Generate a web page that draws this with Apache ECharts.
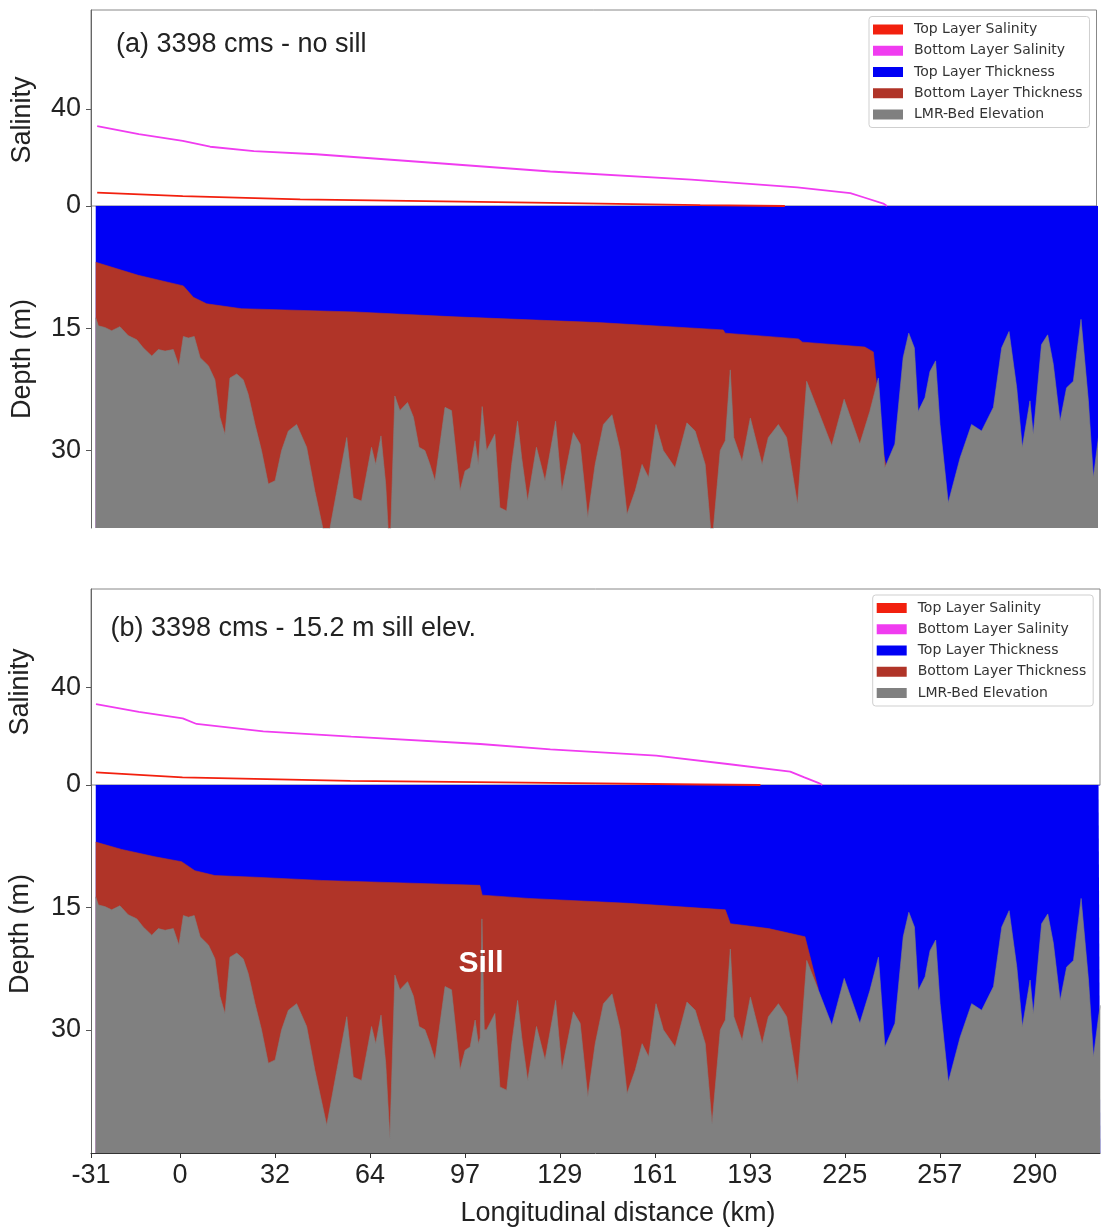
<!DOCTYPE html>
<html>
<head>
<meta charset="utf-8">
<title>Two-layer salinity and thickness profile</title>
<script src="https://cdn.jsdelivr.net/npm/echarts@6/dist/echarts.min.js"></script>
<style>
  html, body { margin: 0; padding: 0; background: #fff; }
  #chart { width: 1103px; height: 1230px; }
</style>
</head>
<body>
<div id="chart"></div>
<script>
// x ticks (km) and the labels printed under them
const xTickValues = [-30.2, 0, 32.2, 64.4, 96.6, 128.7, 160.9, 193.1, 225.3, 257.5, 289.7]
const xTickLabels = ['-31', '0', '32', '64', '97', '129', '161', '193', '225', '257', '290']
const salinityTicks = [0, 40]
const depthTicks = [15, 30]

// LMR bed depth (m) along the river, [km, depth]
const bedDepth = [
  [-28.6, 13.7], [-27.7, 14.7], [-25.5, 14.9], [-23.2, 15.3], [-20.4, 14.8], [-17.6, 15.9],
  [-14.7, 16.4], [-12.5, 17.4], [-9.6, 18.4], [-7.4, 17.6], [-5.1, 17.8], [-2.3, 17.6],
  [-0.4, 19.6], [1.1, 16.0], [2.8, 16.2], [4.8, 16.0], [6.8, 18.6], [9.6, 19.6],
  [11.8, 21.3], [13.5, 25.9], [15.2, 28.0], [16.9, 21.1], [19.2, 20.6], [21.4, 21.3],
  [23.1, 23.1], [25.4, 26.8], [27.6, 30.0], [29.9, 34.1], [32.2, 33.7], [34.4, 30.0],
  [36.7, 27.6], [39.5, 26.8], [42.9, 29.6], [45.7, 35.0], [49.7, 41.7], [53.1, 35.0],
  [56.5, 28.4], [58.7, 35.8], [61.5, 36.2], [64.9, 29.6], [66.3, 31.7], [68.1, 28.2],
  [69.7, 34.1], [71.1, 43.3], [72.8, 23.3], [74.5, 25.1], [77.1, 24.1], [79.1, 25.9],
  [81.0, 29.6], [83.0, 30.0], [84.5, 31.5], [86.4, 33.7], [89.8, 24.7], [92.0, 25.1],
  [94.9, 34.9], [96.6, 32.5], [98.3, 32.1], [100.0, 28.8], [101.1, 31.7], [102.4, 24.6],
  [103.9, 30.0], [106.7, 28.0], [108.4, 37.0], [110.7, 37.4], [112.4, 31.7], [114.4, 26.4],
  [115.8, 30.9], [117.8, 36.2], [120.8, 29.6], [123.7, 33.7], [127.3, 26.4], [129.4, 34.9],
  [133.3, 27.8], [135.6, 29.2], [138.2, 38.2], [140.7, 31.7], [143.5, 26.8], [146.4, 25.6],
  [149.2, 30.0], [151.5, 37.8], [154.3, 34.9], [156.6, 31.7], [158.8, 33.3], [161.3, 26.8],
  [163.8, 30.0], [167.8, 32.1], [171.8, 26.6], [174.6, 27.6], [178.0, 31.7], [180.3, 41.5],
  [183.1, 30.0], [184.8, 28.8], [186.5, 20.1], [187.7, 28.4], [190.5, 31.3], [193.3, 26.0],
  [197.3, 31.7], [199.4, 28.4], [202.8, 26.8], [205.6, 28.4], [209.3, 36.6], [212.4, 21.5],
  [216.4, 25.2], [220.9, 29.4], [225.1, 23.7], [230.4, 29.2], [233.8, 25.2], [236.7, 21.1],
  [238.9, 32.1], [242.3, 29.2], [245.1, 18.6], [247.0, 15.6], [248.9, 17.4], [250.2, 25.2],
  [252.5, 23.5], [254.2, 20.3], [256.1, 19.0], [257.6, 26.8], [260.4, 36.4], [264.4, 30.9],
  [268.3, 26.8], [271.7, 27.6], [275.7, 24.7], [278.5, 17.4], [281.0, 15.4], [283.6, 22.3],
  [285.5, 29.6], [288.1, 23.9], [289.2, 28.0], [292.0, 17.0], [294.1, 15.8], [296.0, 19.4],
  [298.3, 26.4], [300.5, 22.3], [302.8, 21.5], [305.4, 13.9], [307.9, 23.9], [309.6, 33.3],
  [311.3, 28.4], [311.9, 27.0]
]

// sill crest added to the bed in case (b)
const sillB = [[101.7, 31.0], [102.3, 16.4], [102.5, 16.4], [103.1, 30.0]]

// interface depth (top of bottom layer), [km, depth]
const interfaceA = [
  [-28.6, 6.9], [-14.2, 8.5], [1.1, 9.8], [4.5, 11.2], [9.0, 12.0], [20.8, 12.6],
  [59.3, 13.0], [93.2, 13.6], [141.8, 14.3], [184.1, 15.2], [184.8, 15.6], [209.6, 16.3],
  [211.0, 16.7], [232.1, 17.3], [235.0, 17.9], [236.0, 21.5], [238.4, 30.3], [239.4, 32.0]
]
const interfaceB = [
  [-28.6, 7.0], [-19.8, 7.9], [-8.5, 8.8], [0.5, 9.4], [5.0, 10.5], [11.8, 11.1],
  [25.4, 11.3], [48.0, 11.7], [84.0, 12.1], [101.6, 12.3], [102.4, 13.5], [118.0, 13.9],
  [151.9, 14.5], [184.8, 15.3], [186.5, 17.0], [199.5, 17.6], [211.8, 18.6], [216.3, 25.0]
]

// salinity, [km, psu]
const topSalA = [[-28.1, 5.5], [0.9, 4.1], [40.7, 2.7], [125.5, 1.3], [176.3, 0.4], [205.0, 0.0]]
const botSalA = [
  [-28.1, 32.9], [-14.0, 29.6], [0.9, 26.8], [10.2, 24.4], [25.0, 22.6], [46.1, 21.3],
  [87.7, 17.6], [125.5, 14.2], [173.3, 10.9], [209.2, 7.7], [227.2, 5.3], [231.9, 3.5],
  [238.4, 1.0], [239.6, 0.0]
]
const topSalB = [[-28.5, 5.2], [0.8, 3.1], [57.7, 1.7], [125.5, 0.9], [176.3, 0.2], [196.7, 0.0]]
const botSalB = [
  [-28.5, 33.1], [-14.0, 30.0], [0.9, 27.3], [5.6, 25.0], [28.2, 22.0], [58.0, 19.8],
  [101.7, 16.8], [101.9, 17.6], [102.1, 16.0], [125.5, 14.6], [161.4, 12.0], [186.3, 8.5],
  [186.5, 9.2], [186.7, 7.9], [206.8, 5.5], [211.6, 3.1], [216.3, 0.9], [217.7, 0.0]
]

const names = ['Top Layer Salinity', 'Bottom Layer Salinity', 'Top Layer Thickness', 'Bottom Layer Thickness', 'LMR-Bed Elevation']
const colors = { topSal: '#f2200e', botSal: '#f03cf0', topThk: '#0000f5', botThk: '#b03428', bed: '#808080' }

// bed for case (b): original stations with the sill crest in place
const bedB = bedDepth.filter(p => p[0] < 101.5 || p[0] > 103.5).concat(sillB).sort((a, b) => a[0] - b[0])
// water surface at every bed station
const surface = bedDepth.map(p => [p[0], 0])

const labelFont = 'Liberation Sans, Arial, sans-serif'
const tickLabel = { fontSize: 27, color: '#222', fontFamily: labelFont }

const xAxisFor = (gridIndex, max, show) => ({
  type: 'value', gridIndex, min: -30.2, max,
  show,
  axisLine: { show, onZero: false, lineStyle: { color: '#333' } },
  axisTick: { show, length: 5, customValues: xTickValues, lineStyle: { color: '#333' } },
  axisLabel: {
    show, margin: 9, ...tickLabel, customValues: xTickValues,
    formatter: v => {
      let best = 0
      xTickValues.forEach((t, i) => { if (Math.abs(t - v) < Math.abs(xTickValues[best] - v)) best = i })
      return xTickLabels[best]
    }
  },
  splitLine: { show: false }
})

const yAxisFor = (gridIndex, min, max, inverse, ticks) => ({
  type: 'value', gridIndex, min, max, inverse,
  axisLine: { show: true, onZero: false, lineStyle: { color: '#666' } },
  axisTick: { show: true, length: 5, customValues: ticks, lineStyle: { color: '#555' } },
  axisLabel: { margin: 10, ...tickLabel, customValues: ticks },
  splitLine: { show: false }
})

const salLine = (name, data, color, idx) => ({
  name, type: 'line', data, xAxisIndex: idx, yAxisIndex: idx,
  color, symbol: 'none', lineStyle: { width: 1.8, color }, z: 5, silent: true
})
const fillArea = (name, data, color, idx, z) => ({
  name, type: 'line', data, xAxisIndex: idx, yAxisIndex: idx,
  color, symbol: 'none', z, silent: true,
  lineStyle: { width: 0.6, color },
  areaStyle: { origin: 'end', color, opacity: 1 }
})

const legendFor = (left, top, padding) => ({
  data: names, orient: 'vertical', left, top, padding,
  icon: 'rect', itemWidth: 30, itemHeight: 10, itemGap: 7.25,
  backgroundColor: 'rgba(255,255,255,0.9)', borderColor: '#cfcfcf', borderWidth: 1, borderRadius: 3,
  textStyle: { fontFamily: 'DejaVu Sans', fontSize: 14, lineHeight: 14, color: '#333', padding: [0, 0, 0, 6] }
})

const textEl = (text, x, y, opts = {}) => ({
  type: 'text', x, y, rotation: opts.rotation || 0, z: 100,
  style: {
    text, fill: opts.fill || '#222',
    font: (opts.weight || 'normal') + ' ' + (opts.size || 27) + 'px ' + labelFont,
    textAlign: opts.align || 'center', textVerticalAlign: 'middle'
  }
})

const chart = echarts.init(document.getElementById('chart'))
chart.setOption({
  animation: false,
  backgroundColor: '#fff',
  grid: [
    { left: 91, top: 10, width: 1005.5, height: 196, show: true, borderColor: '#888', borderWidth: 1 },
    { left: 91, top: 206, width: 1005.5, height: 322 },
    { left: 91, top: 589, width: 1009, height: 196, show: true, borderColor: '#888', borderWidth: 1 },
    { left: 91, top: 785, width: 1009, height: 368 }
  ],
  xAxis: [
    xAxisFor(0, 310.65, false),
    xAxisFor(1, 310.65, false),
    xAxisFor(2, 311.8, false),
    xAxisFor(3, 311.8, true)
  ],
  yAxis: [
    yAxisFor(0, 0, 80.7, false, salinityTicks),
    yAxisFor(1, 0, 39.5, true, depthTicks),
    yAxisFor(2, 0, 80.3, false, salinityTicks),
    yAxisFor(3, 0, 45.1, true, depthTicks)
  ],
  legend: [
    legendFor(869, 16.5, [6, 7, 6, 4]),
    legendFor(872.7, 595, [6, 7, 6, 4])
  ],
  series: [
    // (a) no sill
    salLine(names[0], topSalA, colors.topSal, 0),
    salLine(names[1], botSalA, colors.botSal, 0),
    fillArea(names[2], surface, colors.topThk, 1, 1),
    fillArea(names[3], interfaceA, colors.botThk, 1, 2),
    fillArea(names[4], bedDepth, colors.bed, 1, 3),
    // (b) 15.2 m sill
    salLine(names[0], topSalB, colors.topSal, 2),
    salLine(names[1], botSalB, colors.botSal, 2),
    fillArea(names[2], surface, colors.topThk, 3, 1),
    fillArea(names[3], interfaceB, colors.botThk, 3, 2),
    fillArea(names[4], bedB, colors.bed, 3, 3)
  ],
  graphic: [
    textEl('(a) 3398 cms - no sill', 116, 45, { align: 'left' }),
    textEl('(b) 3398 cms - 15.2 m sill elev.', 110.5, 629, { align: 'left' }),
    textEl('Salinity', 23, 120, { rotation: Math.PI / 2 }),
    textEl('Depth (m)', 23, 359, { rotation: Math.PI / 2 }),
    textEl('Salinity', 21, 692, { rotation: Math.PI / 2 }),
    textEl('Depth (m)', 21, 934, { rotation: Math.PI / 2 }),
    textEl('Sill', 481, 963.5, { fill: '#fff', weight: 'bold', size: 30 }),
    textEl('Longitudinal distance (km)', 618, 1214)
  ]
})
</script>
</body>
</html>
